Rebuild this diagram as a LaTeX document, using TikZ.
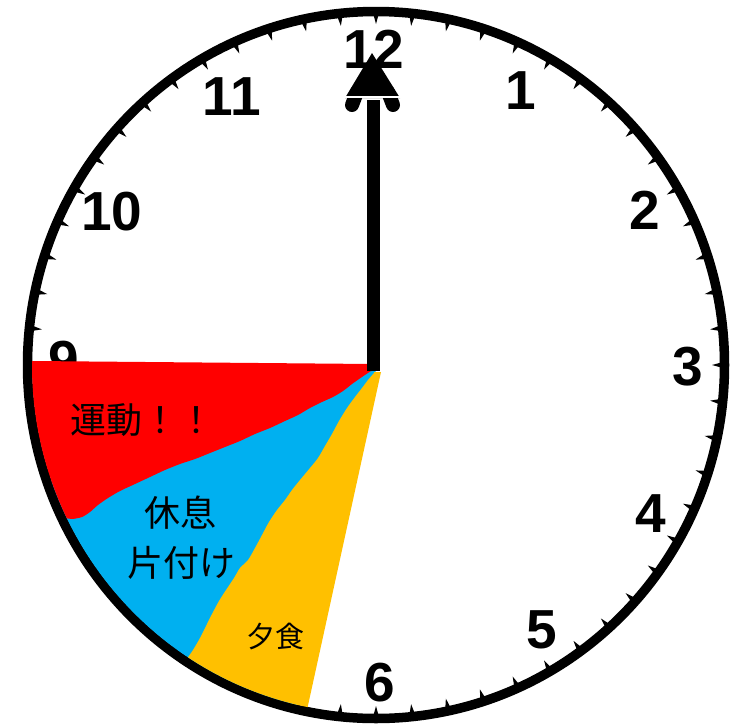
\documentclass[tikz,border=0pt]{standalone}
\usepackage{fontspec}
\setmainfont{Liberation Sans}
\newfontfamily\cjk{Noto Sans CJK JP}
\definecolor{cred}{HTML}{FF0000}
\definecolor{cblue}{HTML}{00B0F0}
\definecolor{corange}{HTML}{FFC000}
\begin{document}
\begin{tikzpicture}[x=1pt,y=-1pt,
  num/.style={font=\fontsize{55}{55}\selectfont\bfseries, inner sep=0pt},
  lbl/.style={font=\cjk\fontsize{36}{36}\selectfont, inner sep=0pt},
  lblsmall/.style={font=\cjk\fontsize{29}{29}\selectfont, inner sep=0pt}]
\useasboundingbox (0,0) rectangle (731,726);
% hour numbers
\node[num] (n12) at (374,49) {12};
\node[num] (n1) at (521,91) {1};
\node[num] (n2) at (645,210) {2};
\node[num] (n3) at (688,367) {3};
\node[num] (n4) at (651,514) {4};
\node[num] (n5) at (542,630) {5};
\node[num] (n6) at (380,683) {6};
\node[num] (n9) at (64,361) {9};
\node[num] (n10) at (112,212) {10};
\node[num] (n11) at (232,97) {11};
% dial
\draw[line width=9.5] (376,365) ellipse [x radius=348.5, y radius=353.5];
\foreach \i in {0,...,59}{
  \pgfmathsetmacro\a{6*\i}
  \fill ({376+347*sin(\a)-3*cos(\a)},{365-352*cos(\a)-3*sin(\a)})
     -- ({376+347*sin(\a)+3*cos(\a)},{365-352*cos(\a)+3*sin(\a)})
     -- ({376+336*sin(\a)},{365-341*cos(\a)}) -- cycle;
}
% sectors
\begin{scope}
\clip (376,365) ellipse [x radius=344, y radius=349];
\fill[cblue] (374,366) -- (0,500) -- (0,740) -- (290,740) -- (376,373) -- cycle;
\fill[corange] (374,372) -- (381,372) -- (307,710) -- (300,740) -- (150,740) -- (170,676)
  -- plot[smooth] coordinates {(178,670) (186,660) (193,650) (200,638) (206,626) (212,614)
  (219,601) (226,590) (234,578) (240,568) (248,560) (255,548) (262,535) (269,522)
  (277,510) (285,500) (292,490) (300,480) (310,468) (318,458) (325,446) (332,434)
  (339,421) (347,408) (355,397) (362,388) (368,380) (374,373)} -- cycle;
\fill[cred] (0,361) -- (33,361) -- (372,364) -- (372,371)
  -- plot[smooth] coordinates {(371,371) (362,377) (352,384) (343,391) (333,397) (322,402)
  (310,408) (298,415) (285,421) (270,428) (255,434) (240,441) (225,447) (210,453)
  (195,459) (180,464) (165,470) (150,477) (135,484) (120,491) (108,498) (98,505)
  (90,512) (82,517) (72,519) (66,518)} -- (0,518) -- cycle;
\end{scope}
% hand
\coordinate (hb) at (373,371);
\coordinate (ht) at (373,100);
\draw[line width=13] (hb) -- (ht);
\fill (372,53) -- (345,98) -- (400,98) -- cycle;
\draw[line width=14, line cap=round] (357,92) -- (352,105);
\draw[line width=14, line cap=round] (388,92) -- (393,105);
\draw[white, line width=2] (340,97) -- (405,97);
% labels
\node[lbl] (l1) at (142,420) {運動！！};
\node[lbl] (l2) at (180,513) {休息};
\node[lbl] (l3) at (181,563) {片付け};
\node[lblsmall] (l4) at (275,637) {夕食};
\end{tikzpicture}
\end{document}
